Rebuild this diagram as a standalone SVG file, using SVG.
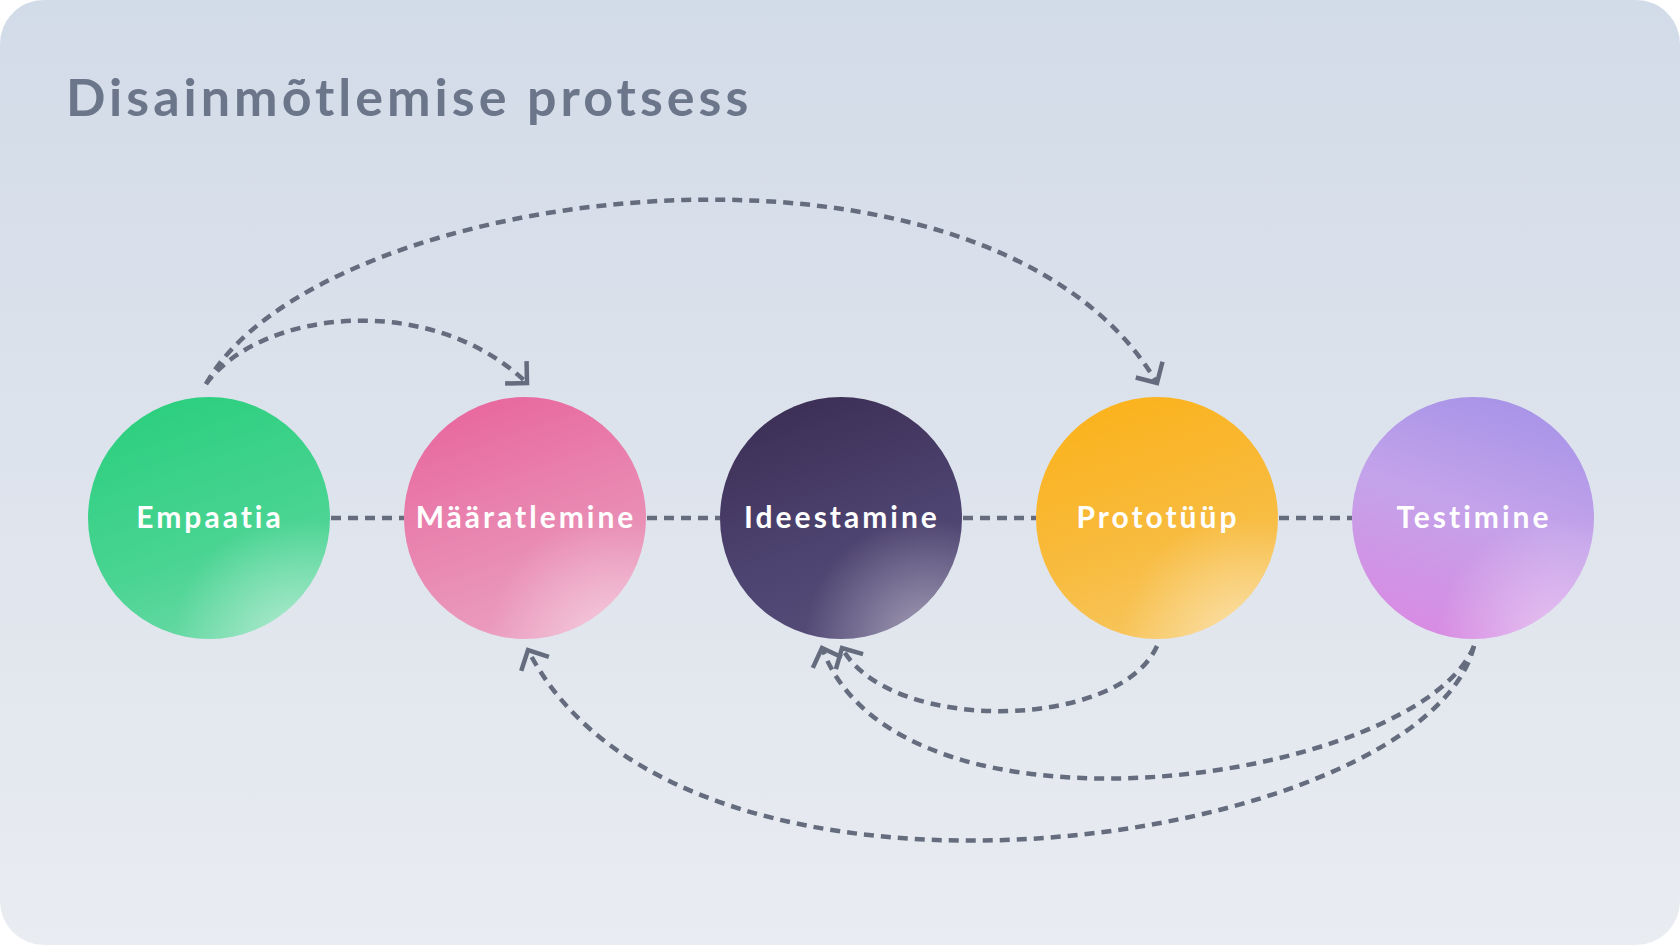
<svg xmlns="http://www.w3.org/2000/svg" width="1680" height="945" viewBox="0 0 1680 945">
  <defs>
    <linearGradient id="bg" x1="0" y1="0" x2="0" y2="1">
      <stop offset="0" stop-color="#d2dbe8"/>
      <stop offset="1" stop-color="#e9ecf1"/>
    </linearGradient>
    <linearGradient id="gEmp" x1="0.4" y1="0" x2="0.75" y2="1">
      <stop offset="0" stop-color="#2dcf7f"/>
      <stop offset="0.6" stop-color="#4ad493"/>
      <stop offset="1" stop-color="#6fdaa8"/>
    </linearGradient>
    <linearGradient id="gMaa" x1="0.4" y1="0" x2="0.75" y2="1">
      <stop offset="0" stop-color="#e8699f"/>
      <stop offset="0.55" stop-color="#e98ab3"/>
      <stop offset="1" stop-color="#eba3c2"/>
    </linearGradient>
    <linearGradient id="gIde" x1="0.4" y1="0" x2="0.75" y2="1">
      <stop offset="0" stop-color="#3d3057"/>
      <stop offset="0.55" stop-color="#4d4370"/>
      <stop offset="1" stop-color="#574e7a"/>
    </linearGradient>
    <linearGradient id="gPro" x1="0.4" y1="0" x2="0.75" y2="1">
      <stop offset="0" stop-color="#fbb31e"/>
      <stop offset="0.55" stop-color="#f8bb3e"/>
      <stop offset="1" stop-color="#f7c865"/>
    </linearGradient>
    <linearGradient id="gTes" x1="0.6" y1="0" x2="0.3" y2="1">
      <stop offset="0" stop-color="#a894e8"/>
      <stop offset="0.45" stop-color="#c4a3ea"/>
      <stop offset="1" stop-color="#d98ae2"/>
    </linearGradient>
    <radialGradient id="hl" cx="0.85" cy="1" r="0.5">
      <stop offset="0" stop-color="#ffffff" stop-opacity="0.45"/>
      <stop offset="1" stop-color="#ffffff" stop-opacity="0"/>
    </radialGradient>
    <marker id="arr" viewBox="-20 -20 24 40" refX="0" refY="0" markerWidth="24" markerHeight="40" markerUnits="userSpaceOnUse" orient="auto">
      <path d="M-15.5,-15.5 L0,0 L-15.5,15.5" fill="none" stroke="#646c7e" stroke-width="4.5" stroke-linejoin="miter"/>
    </marker>
  </defs>
  <style>
    .title { font-family: "Lato", "Noto Sans", sans-serif; font-weight: 700; font-size: 52px; fill: #6b768a; letter-spacing: 4px; }
    .lbl { font-family: "Lato", "Noto Sans", sans-serif; font-weight: 700; font-size: 30px; fill: #ffffff; letter-spacing: 3px; text-anchor: middle; }
    .dash { fill: none; stroke: #646c7e; stroke-width: 4.5; stroke-dasharray: 10 7; }
    .hl { fill: url(#hl); }
  </style>

  <rect x="0" y="0" width="1680" height="945" fill="#ffffff"/>
  <rect x="0" y="0" width="1680" height="945" rx="44" ry="44" fill="url(#bg)"/>

  <text class="title" x="66" y="116">Disainmõtlemise protsess</text>

  <g id="connectors">
    <line class="dash" x1="331" y1="518" x2="404" y2="518"/>
    <line class="dash" x1="647" y1="518" x2="720" y2="518"/>
    <line class="dash" x1="963" y1="518" x2="1036" y2="518"/>
    <line class="dash" x1="1279" y1="518" x2="1352" y2="518"/>
    <path class="dash" d="M206,384 C320,180 990,100 1157,383" marker-end="url(#arr)"/>
    <path class="dash" d="M206,384 C260,310 430,290 527,383" marker-end="url(#arr)"/>
    <path class="dash" d="M1157,646 C1120,730 890,735 842,648" marker-end="url(#arr)"/>
    <path class="dash" d="M1474,646 C1420,780 900,860 822,648" marker-end="url(#arr)"/>
    <path class="dash" d="M1474,646 C1425,845 685,958 528,650" marker-end="url(#arr)"/>
  </g>

  <g id="empaatia">
    <circle cx="209" cy="518" r="121" fill="url(#gEmp)"/>
    <circle cx="209" cy="518" r="121" class="hl"/>
    <text class="lbl" x="210" y="528">Empaatia</text>
  </g>
  <g id="maaratlemine">
    <circle cx="525" cy="518" r="121" fill="url(#gMaa)"/>
    <circle cx="525" cy="518" r="121" class="hl"/>
    <text class="lbl" x="526" y="528">Määratlemine</text>
  </g>
  <g id="ideestamine">
    <circle cx="841" cy="518" r="121" fill="url(#gIde)"/>
    <circle cx="841" cy="518" r="121" class="hl"/>
    <text class="lbl" x="842" y="528">Ideestamine</text>
  </g>
  <g id="prototuup">
    <circle cx="1157" cy="518" r="121" fill="url(#gPro)"/>
    <circle cx="1157" cy="518" r="121" class="hl"/>
    <text class="lbl" x="1158" y="528">Prototüüp</text>
  </g>
  <g id="testimine">
    <circle cx="1473" cy="518" r="121" fill="url(#gTes)"/>
    <circle cx="1473" cy="518" r="121" class="hl"/>
    <text class="lbl" x="1474" y="528">Testimine</text>
  </g>
</svg>
